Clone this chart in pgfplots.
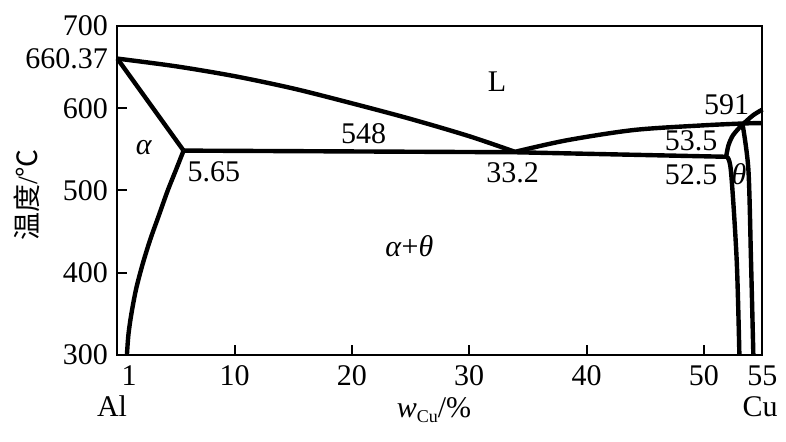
\documentclass[border=0pt]{standalone}
\usepackage{fontspec}
\setmainfont{Liberation Serif}
\newfontfamily\cjk{Noto Sans CJK SC}
\usepackage{pgfplots}
\pgfplotsset{compat=1.18}
\begin{document}
\fontsize{15}{18}\selectfont
\begin{tikzpicture}
\begin{axis}[
 at={(0,0)}, anchor=south west,
 width=322.6pt, height=164.5pt, scale only axis,
 xmin=0, xmax=55, ymin=300, ymax=700,
 axis line style={line width=1pt},
 tick style={line width=1pt, black},
 tick align=inside,
 major tick length=5pt,
 xtick={10,20,30,40,50},
 ytick={400,500,600},
 xtick pos=left, ytick pos=left,
 extra x ticks={1,55},
 extra x tick labels={1,55},
 extra y ticks={300,660.37,700},
 extra y tick labels={300,660.37,700},
 extra tick style={major tick length=0pt},
 /pgf/number format/assume math mode=true,
 ticklabel style={font=\fontsize{15}{18}\selectfont, inner sep=0pt},
 xticklabel style={yshift=-5pt},
 yticklabel style={xshift=-4.5pt},
 clip=false,
]
% left liquidus
\addplot[black, line width=2.2pt, smooth, tension=0.5] coordinates {(0,660.37)(5,651)(10,639)(15,624)(20,606)(25,587)(30,566)(33.9,547)};
% alpha solidus
\addplot[black, line width=2.2pt] coordinates {(0,660.37)(5.65,548.5)};
% alpha solvus
\addplot[black, line width=2.2pt, smooth] coordinates {(5.65,548.5)(5.0,525)(4.3,500)(3.55,470)(2.8,440)(2.15,410)(1.6,380)(1.2,350)(0.95,325)(0.82,300)};
% eutectic line
\addplot[black, line width=2.2pt] coordinates {(5.65,548.5)(33.9,546.5)(51.9,541)};
% right liquidus
\addplot[black, line width=2.2pt, smooth] coordinates {(33.9,547)(38.3,561)(44,573.5)(49.7,579)(53.4,581.5)(55,582)};
% theta left upper
\addplot[black, line width=2.2pt, smooth] coordinates {(51.9,541)(52.1,555)(52.5,567.5)(53.3,580.5)};
% theta left lower
\addplot[black, line width=2.2pt, smooth] coordinates {(51.9,541)(52.3,525)(52.8,415.5)(53.03,300)};
% theta right
\addplot[black, line width=2.2pt, smooth] coordinates {(53.3,580.5)(53.8,525)(54.02,415.5)(54.22,300)};
% upper curve
\addplot[black, line width=2.2pt, smooth] coordinates {(53.4,581.5)(54.2,591.5)(55,598.5)};

\node at (axis cs:32.37,631.9) {L};
\node at (axis cs:2.28,551.7) {\textit{α}};
\node at (axis cs:20.99,568.7) {548};
\node at (axis cs:8.24,522.5) {5.65};
\node at (axis cs:33.69,521.3) {33.2};
\node at (axis cs:24.9,432.5) {\textit{α}+\textit{θ}};
\node at (axis cs:51.94,604) {591};
\node at (axis cs:48.91,560.2) {53.5};
\node at (axis cs:48.91,518.8) {52.5};
\node at (axis cs:53.0,520) {\textit{θ}};
\end{axis}
\node[anchor=base, inner sep=0pt] at (-2.65pt,-31pt) {Al};
\node[anchor=base, inner sep=0pt] at (321.35pt,-31pt) {Cu};
\node[anchor=base, inner sep=0pt] at (158.35pt,-31.5pt) {\textit{w}\raisebox{-0.3ex}{\fontsize{9}{9}\selectfont Cu}/\%};
\node[rotate=90, inner sep=0pt] at (-45.15pt,80pt) {\fontsize{14}{16}\selectfont{\cjk 温度}/{\cjk ℃}};
\pgfresetboundingbox
\path[use as bounding box] (-58.65pt,-43.5pt) rectangle (334.35pt,177.5pt);
\end{tikzpicture}
\end{document}
